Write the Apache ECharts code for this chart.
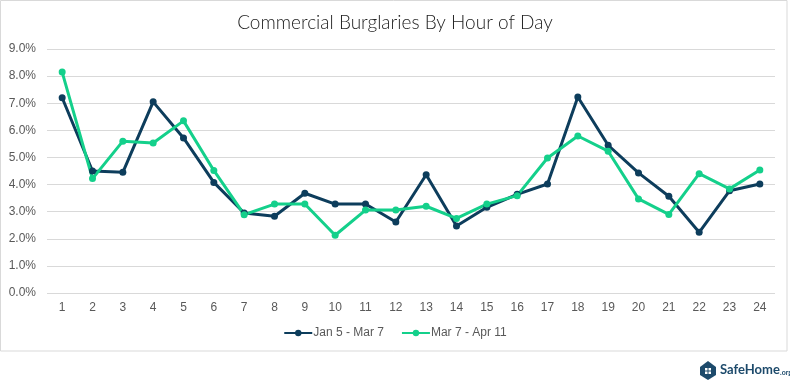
<!DOCTYPE html>
<html><head><meta charset="utf-8">
<script src="https://cdn.jsdelivr.net/npm/echarts@6/dist/echarts.min.js"></script>
<style>html,body{margin:0;padding:0;background:#fff}#c{width:790px;height:382px}</style>
</head><body><div id="c"></div>
<script>
const hours = ['1','2','3','4','5','6','7','8','9','10','11','12','13','14','15','16','17','18','19','20','21','22','23','24'];
const janMar = [7.2,4.5,4.45,7.05,5.72,4.08,2.95,2.83,3.68,3.28,3.28,2.62,4.36,2.47,3.16,3.64,4.02,7.23,5.45,4.43,3.57,2.24,3.77,4.02];
const marApr = [8.15,4.22,5.6,5.53,6.35,4.52,2.89,3.28,3.28,2.13,3.06,3.06,3.2,2.75,3.28,3.59,4.98,5.79,5.23,3.47,2.9,4.4,3.84,4.54];
const seriesNames = ['Jan 5 - Mar 7','Mar 7 - Apr 11'];
const colors = ['#0d3d5c','#14d08b'];

const chart = echarts.init(document.getElementById('c'));
chart.setOption({
  animation:false,
  title:{text:'Commercial Burglaries By Hour of Day',left:'center',top:8,
    textStyle:{fontFamily:'Lato',fontWeight:300,fontSize:19,color:'#222'}},
  grid:{left:47,right:15,top:49,bottom:89},
  legend:{bottom:38,left:'center',itemWidth:28,itemHeight:8,itemGap:17,
    textStyle:{fontFamily:'Liberation Sans',fontSize:12,color:'#595959',padding:[0,0,0,-4]},
    data:seriesNames},
  xAxis:{type:'category',data:hours,boundaryGap:true,
    axisLine:{show:false},axisTick:{show:false},
    axisLabel:{fontFamily:'Liberation Sans',fontSize:12,color:'#595959',margin:9}},
  yAxis:{type:'value',min:0,max:9,interval:1,
    axisLine:{show:false},axisTick:{show:false},
    splitLine:{lineStyle:{color:'#d9d9d9',width:1}},
    axisLabel:{fontFamily:'Liberation Sans',fontSize:12,color:'#595959',margin:11,
      formatter:v=>v.toFixed(1)+'%'}},
  series:[
    {name:seriesNames[0],type:'line',data:janMar,symbol:'circle',symbolSize:7,
      lineStyle:{width:3,color:colors[0]},itemStyle:{color:colors[0]}},
    {name:seriesNames[1],type:'line',data:marApr,symbol:'circle',symbolSize:7,
      lineStyle:{width:3,color:colors[1]},itemStyle:{color:colors[1]}}
  ],
  graphic:[
    {type:'rect',shape:{x:0.5,y:0.5,width:786.5,height:350.5},
      style:{fill:'none',stroke:'#d9d9d9',lineWidth:1},silent:true},
    {type:'group',left:700,top:361,children:[
      {type:'polygon',shape:{points:[[0,6],[8,0],[16,6],[16,14],[8,19],[0,14]]},style:{fill:'#1d4a6b'}},
      {type:'rect',shape:{x:5,y:7,width:6,height:6},style:{fill:'#fff'}},
      {type:'rect',shape:{x:7.5,y:7,width:1,height:6},style:{fill:'#1d4a6b'}},
      {type:'rect',shape:{x:5,y:9.5,width:6,height:1},style:{fill:'#1d4a6b'}},
      {type:'text',x:20,y:2,style:{text:'SafeHome',font:'bold 13px Lato',fill:'#1d4a6b'}},
      {type:'text',x:80,y:8,style:{text:'.org',font:'bold 7px Lato',fill:'#1d4a6b'}}
    ]}
  ]
});
</script></body></html>
